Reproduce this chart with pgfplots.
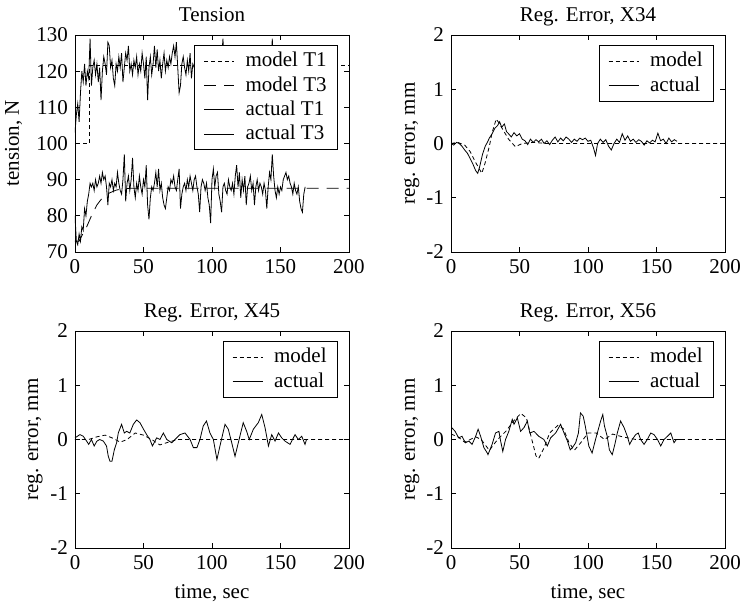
\documentclass[border=0pt]{standalone}
\usepackage{pgfplots}
\pgfplotsset{compat=1.18}
\usepackage{fontspec}
\setmainfont{Liberation Serif}

\pgfplotsset{
  panel/.style={
    scale only axis, width=274pt, height=217pt,
    xmin=0, xmax=200, xtick={0,50,100,150,200},
    tick align=inside, xtick pos=both, ytick pos=both,
    major tick length=5pt,
    axis line style={line width=0.8pt},
    every tick/.style={black, line width=0.8pt},
    /pgf/number format/assume math mode=true,
    title style={anchor=base, yshift=7pt, inner sep=0pt},
    legend cell align=left,
    legend image code/.code={\draw[##1] (0pt,0pt) -- (30pt,0pt);},
    legend style={draw=black, fill=white, line width=0.8pt,
      at={(1,1)}, anchor=north east, xshift=-11pt, yshift=-10pt,
      inner xsep=9pt, inner ysep=5pt, row sep=2.5pt,
      nodes={inner sep=2pt},
      /tikz/every odd column/.append style={column sep=9pt}},
  },
  errpanel/.style={panel, ymin=-2, ymax=2, ytick={-2,-1,0,1,2},
    ylabel={reg. error, mm}},
  modeldot/.style={black, line width=0.8pt, dash pattern=on 4pt off 3pt},
  modeldash/.style={black, line width=0.8pt, dash pattern=on 12pt off 8pt},
  actual/.style={black, line width=0.8pt},
}

\begin{document}
\fontsize{21}{25}\selectfont
\begin{tikzpicture}
\path[use as bounding box] (0pt,0pt) rectangle (740pt,605pt);

% ---------------- Tension ----------------
\begin{axis}[panel, at={(75pt,353pt)}, anchor=south west,
  title={Tension},
  ymin=70, ymax=130, ytick={70,80,...,130},
  ylabel={tension, N},
  ylabel style={at={(axis description cs:-0.224,0.5)}, anchor=center},
]
\addplot[modeldot] coordinates {(6,100) (10.5,100) (10.5,121.5) (200,121.5)};
\addlegendentry{model T1}
\addplot[modeldash] coordinates {
  (0,73) (3,73) (5,74.5) (8,76.5) (12,80) (16,83) (20,85) (25,86.3)
  (30,87.1) (35,87.5) (40,87.6) (200,87.6)};
\addlegendentry{model T3}
\addplot[actual] coordinates {
  (0,103) (1,108) (2,111) (3,106) (4,114) (5,120) (6,117) (7,122) (8,116) (9,120)
  (10,118) (11,129) (12,116) (13,121) (14,123) (15,119) (16,122) (17,117) (18,121) (19,112)
  (20,120) (21,124) (22,122) (23,119) (24,128) (25,127) (26,121) (27,123) (28,118) (29,116)
  (30,122) (31,120) (32,124) (33,121) (34,125) (35,117) (36,121) (37,125) (38,123) (39,127)
  (40,120) (41,122) (42,119) (43,123) (44,121) (45,124) (46,119) (47,122) (48,120) (49,125)
  (50,122) (51,118) (52,124) (53,112) (54,121) (55,124) (56,119) (57,122) (58,127) (59,121)
  (60,126) (61,120) (62,123) (63,118) (64,122) (65,125) (66,120) (67,123) (68,121) (69,124)
  (70,122) (71,125) (72,127) (73,124) (74,128) (75,121) (76,114) (77,116) (78,122) (79,124)
  (80,121) (81,119) (82,123) (83,120) (84,125) (85,118) (86,122) (87,121) (88,124) (89,117)
  (90,122) (91,120) (92,126) (93,119) (94,123) (95,121) (96,116) (97,122) (98,124) (99,120)
  (100,123) (101,118) (102,121) (103,125) (104,120) (105,122) (106,117) (107,123) (108,129) (109,121)
  (110,119) (111,124) (112,122) (113,118) (114,121) (115,125) (116,120) (117,123) (118,119) (119,122)
  (120,126) (121,120) (122,117) (123,122) (124,124) (125,121) (126,119) (127,123) (128,120) (129,125)
  (130,121) (131,118) (132,122) (133,124) (134,120) (135,123) (136,119) (137,121) (138,125) (139,120)
  (140,122) (141,118) (142,123) (143,121) (144,129) (145,120) (146,122) (147,119) (148,124) (149,121)
  (150,118) (151,122) (152,125) (153,120) (154,123) (155,119) (156,121) (157,124) (158,120) (159,122)
  (160,118) (161,123) (162,121) (163,125) (164,120) (165,122) (166,119) (167,121) (168,122)};
\addlegendentry{actual T1}
\addplot[actual] coordinates {
  (0,80) (1,73) (2,72) (3,75) (4,73) (5,77) (6,76) (7,82) (8,80) (9,84)
  (10,86) (11,89) (12,88) (13,89) (14,87) (15,90) (16,88) (17,89) (18,91) (19,89)
  (20,92) (21,90) (22,91) (23,88) (24,83) (25,89) (26,88) (27,90) (28,87) (29,89)
  (30,88) (31,92) (32,89) (33,87) (34,86) (35,90) (36,97) (37,84) (38,89) (39,91)
  (40,87) (41,90) (42,96) (43,88) (44,85) (45,89) (46,87) (47,91) (48,88) (49,86)
  (50,90) (51,88) (52,94) (53,83) (54,79) (55,85) (56,88) (57,87) (58,89) (59,92)
  (60,88) (61,93) (62,87) (63,89) (64,85) (65,83) (66,82) (67,85) (68,88) (69,87)
  (70,90) (71,89) (72,91) (73,88) (74,87) (75,90) (76,93) (77,82) (78,86) (79,88)
  (80,89) (81,87) (82,90) (83,88) (84,91) (85,89) (86,87) (87,90) (88,91) (89,88)
  (90,86) (91,81) (92,88) (93,90) (94,89) (95,87) (96,89) (97,85) (98,83) (99,78)
  (100,90) (101,93) (102,88) (103,91) (104,92) (105,86) (106,84) (107,81) (108,88) (109,89)
  (110,87) (111,86) (112,90) (113,88) (114,87) (115,89) (116,86) (117,91) (118,94) (119,88)
  (120,92) (121,85) (122,90) (123,87) (124,91) (125,83) (126,88) (127,89) (128,91) (129,87)
  (130,89) (131,83) (132,88) (133,90) (134,87) (135,89) (136,88) (137,86) (138,89) (139,87)
  (140,82) (141,88) (142,92) (143,90) (144,97) (145,91) (146,87) (147,85) (148,88) (149,86)
  (150,88) (151,87) (152,90) (153,91) (154,92) (155,90) (156,91) (157,89) (158,88) (159,86)
  (160,89) (161,87) (162,86) (163,88) (164,84) (165,82) (166,81) (167,86) (168,88)};
\addlegendentry{actual T3}
\end{axis}

% ---------------- X34 ----------------
\begin{axis}[errpanel, at={(451pt,353pt)}, anchor=south west,
  title={Reg. Error, X34},
  ylabel style={at={(axis description cs:-0.143,0.5)}, anchor=center},
]
\addplot[modeldot] coordinates {
  (0,0) (5,0.02) (10,-0.03) (14,-0.15) (18,-0.35) (22.5,-0.55) (25,-0.35) (28,-0.05)
  (30,0.2) (33,0.45) (35,0.38) (38,0.25) (42,0.08) (47,-0.06) (52,0) (60,0.02) (70,0) (200,0)};
\addlegendentry{model}
\addplot[actual] coordinates {
  (0,0) (2,-0.03) (4,0.02) (6,0) (8,-0.05) (10,-0.12) (12,-0.18) (14,-0.28) (16,-0.38)
  (18,-0.5) (19.5,-0.55) (21,-0.42) (23,-0.2) (25,-0.05) (26.5,0.02) (28,0.1) (30,0.18)
  (32,0.28) (34,0.33) (35.5,0.4) (37,0.3) (39,0.36) (40.5,0.22) (42,0.18) (44,0.12)
  (46,0.2) (48,0.14) (50,0.18) (52,0.08) (54,0.05) (56,-0.02) (58,0.08) (60,0.02)
  (62,0.07) (64,0.03) (66,0.08) (68,0) (70,0.05) (72,-0.02) (74,0.06) (76,0.12)
  (78,0.03) (80,0.1) (82,0.05) (84,0.12) (86,0.08) (88,0.02) (90,0.08) (92,0.04)
  (94,0.1) (96,0.07) (98,0.1) (100,0.04) (102,0.06) (104,-0.08) (105.5,-0.22) (107,0)
  (109,0.08) (111,0.02) (113,0.07) (115,-0.05) (117,-0.12) (119,0) (121,0.08) (123,0.02)
  (125,0.18) (127,0.06) (129,0.14) (131,0.04) (133,0.08) (135,0.02) (137,0.07) (139,0.04)
  (141,-0.03) (143,0.05) (145,0.01) (147,0.06) (149,0.03) (151,0.19) (153,0.05) (155,0.08)
  (157,0) (159,0.1) (161,0.03) (163,0.07) (165,0.04)};
\addlegendentry{actual}
\end{axis}

% ---------------- X45 ----------------
\begin{axis}[errpanel, at={(75pt,57pt)}, anchor=south west,
  title={Reg. Error, X45},
  xlabel={time, sec},
  xlabel style={at={(axis description cs:0.5,0)}, anchor=base, yshift=-51pt},
  ylabel style={at={(axis description cs:-0.146,0.5)}, anchor=center},
]
\addplot[modeldot] coordinates {
  (0,0) (10,0) (16,0.05) (22,0.08) (28,0.02) (33,-0.05) (38,0) (44,0.12) (50,0.08)
  (56,0) (62,-0.1) (68,-0.05) (75,0) (200,0)};
\addlegendentry{model}
\addplot[actual] coordinates {
  (0,0.03) (3.6,0.09) (6,0.06) (8.5,-0.03) (10,-0.09) (12,0) (14,-0.12) (16,-0.03)
  (18,0) (20.7,-0.03) (23,-0.12) (24.3,-0.31) (25.5,-0.4) (27,-0.4) (28.7,-0.19)
  (30.4,-0.06) (31.6,0.12) (34,0.28) (36,0.12) (37.7,0.15) (40,0.12) (42.6,0.28)
  (45,0.36) (47.4,0.31) (50,0.19) (52.3,0.09) (54.7,0) (56.5,-0.12) (59.6,0.03)
  (62,0) (64.5,0.12) (67,0) (70.6,-0.06) (73,0) (76.6,0.09) (80.3,0.12) (84,0)
  (86.4,-0.15) (89,-0.15) (91.2,0) (93.6,0.25) (96,0.34) (98.5,0.12) (101,0)
  (103.6,-0.37) (105.8,-0.12) (109.5,0.28) (111.9,0.19) (114.4,-0.06) (116.8,-0.31)
  (119.2,-0.06) (122.8,0.31) (125.3,0.15) (127.2,0) (130.2,0.19) (133.8,0.31)
  (136.3,0.46) (138.7,0.22) (141.2,-0.12) (143.6,0.09) (146,-0.03) (148.5,0.12)
  (150.9,0.03) (153.3,-0.03) (157,-0.09) (160.6,0.09) (163,0) (165.5,0.06)
  (167.9,-0.09) (169,0)};
\addlegendentry{actual}
\end{axis}

% ---------------- X56 ----------------
\begin{axis}[errpanel, at={(451pt,57pt)}, anchor=south west,
  title={Reg. Error, X56},
  xlabel={time, sec},
  xlabel style={at={(axis description cs:0.5,0)}, anchor=base, yshift=-51pt},
  ylabel style={at={(axis description cs:-0.143,0.5)}, anchor=center},
]
\addplot[modeldot] coordinates {
  (0,0.1) (5,0.05) (10,-0.05) (18,0.05) (22,0) (28,-0.2) (34,0) (40,0.15) (46,0.35)
  (51,0.48) (55,0.4) (58,0.1) (62,-0.3) (64,-0.35) (68,-0.15) (72,0.12) (78,0.26)
  (82,0.2) (86,-0.05) (90,-0.2) (95,-0.05) (100,0.12) (106,0.12) (112,0) (118,0.1)
  (125,0.05) (135,0) (200,0)};
\addlegendentry{model}
\addplot[actual] coordinates {
  (0.5,0.22) (3,0.15) (5.6,0.03) (8,0.06) (10.5,-0.06) (13,-0.03) (15.4,-0.09) (18,0.06)
  (19.8,0.19) (21.6,0.06) (24,-0.15) (26.5,-0.25) (27,-0.28) (30,-0.09) (32.5,0.12)
  (35,0.15) (36,0) (37.8,-0.22) (39.8,0) (42.2,0.15) (44.7,0.37) (46,0.28) (48.4,0.4)
  (50.8,0.15) (53.3,0.22) (55.7,0.34) (57.5,0.12) (60.6,0.15) (64,0.06) (67.8,0)
  (70.3,-0.12) (72.7,0.03) (76.4,0.12) (80,0.28) (82.5,0.12) (85,-0.03) (87,-0.19)
  (88.6,-0.15) (91,-0.06) (93,0.12) (94.5,0.49) (96.5,0.43) (98,0.25) (100.6,-0.12)
  (103,-0.25) (105.5,0) (109.2,0.34) (110.8,0.46) (112,0.25) (114,0.06) (115.6,-0.19)
  (117.7,-0.28) (119.6,-0.09) (121.4,0.12) (123.8,0.34) (126.3,0.22) (128.7,0.06)
  (130.4,-0.09) (132.3,0) (134.8,0.09) (136.7,0.12) (138.4,0) (140.9,-0.09) (143.3,0)
  (145.8,0.12) (148.2,0.09) (150.7,0) (153.1,-0.12) (155.5,0) (158,0.06) (160.4,0.12)
  (162.8,-0.06) (164.5,0) (167.7,0)};
\addlegendentry{actual}
\end{axis}
\end{tikzpicture}
\end{document}
